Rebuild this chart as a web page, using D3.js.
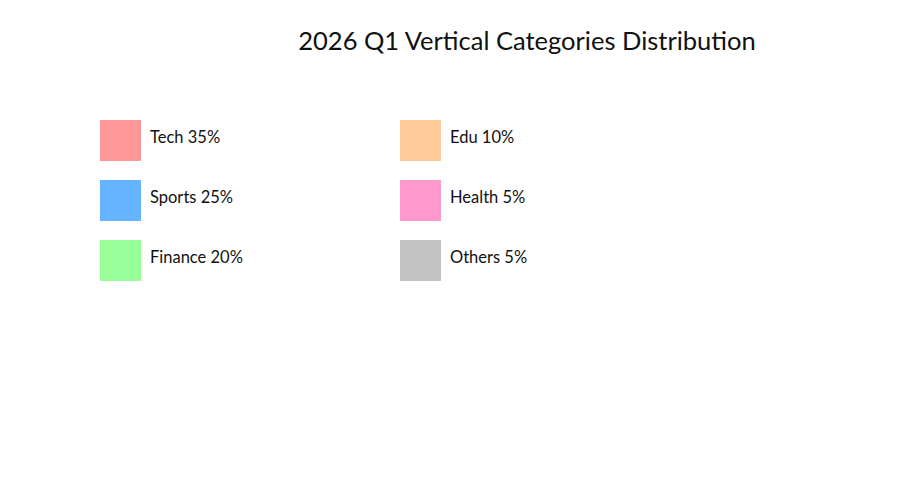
<!DOCTYPE html>
<html>
<head>
<meta charset="utf-8">
<script src="https://cdn.jsdelivr.net/npm/d3@7"></script>
<style>
  body { margin: 0; background: #fff; }
  text { font-family: "Century Gothic", "URW Gothic", Lato, "Noto Sans", sans-serif; fill: #111; }
</style>
</head>
<body>
<svg id="chart" width="900" height="500"></svg>
<script>
const categories = ["Tech", "Sports", "Finance", "Edu", "Health", "Others"];
const shares = [35, 25, 20, 10, 5, 5];
const colors = ["#ff9999", "#66b3ff", "#99ff99", "#ffcc99", "#ff99cc", "#c2c2c2"];

const svg = d3.select("#chart");

//title
svg.append("text")
    .attr("x", 527)
    .attr("y", 50)
    .attr("text-anchor", "middle")
    .style("font-size", "25.5px")
    .text("2026 Q1 Vertical Categories Distribution");

const data = categories.map((c, i) => ({ name: c, value: shares[i], color: colors[i], col: Math.floor(i / 3), row: i % 3 }));

// legend grid: 2 columns x 3 rows
const x = d3.scalePoint().domain([0, 1]).range([100, 400]);
const y = d3.scalePoint().domain([0, 1, 2]).range([120, 240]);
const box = 41;

const items = svg.selectAll("g.item")
    .data(data)
    .enter()
    .append("g")
    .attr("class", "item")
    .attr("transform", d => `translate(${x(d.col)},${y(d.row)})`);

items.append("rect")
    .attr("width", box)
    .attr("height", box)
    .attr("fill", d => d.color);

items.append("text")
    .attr("x", 50)
    .attr("y", 23)
    .style("font-size", "16.5px")
    .text(d => `${d.name} ${d.value}%`);
</script>
</body>
</html>
